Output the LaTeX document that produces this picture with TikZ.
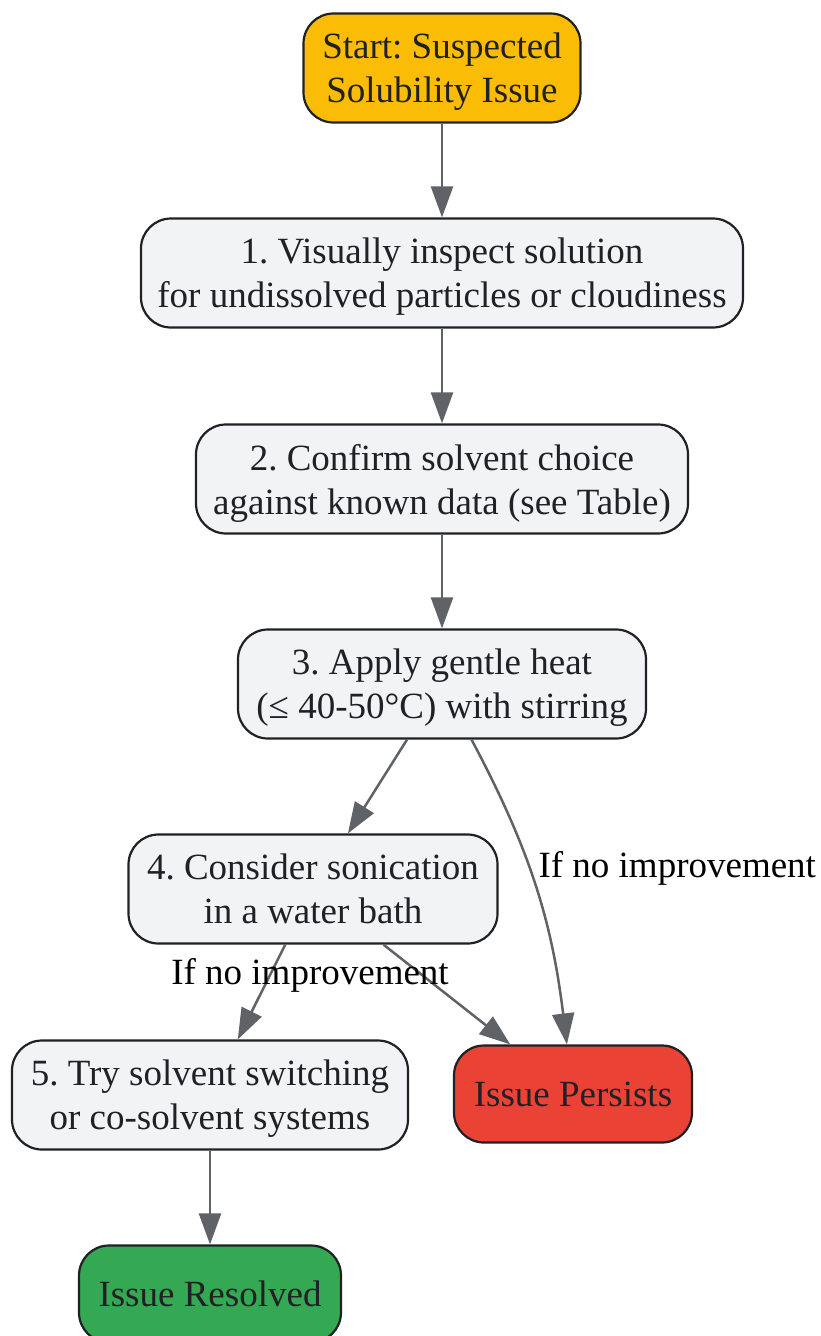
\documentclass[tikz,border=0pt]{standalone}
\usepackage{fontspec}
\setmainfont{Liberation Serif}
\usetikzlibrary{arrows.meta}
\definecolor{stepfill}{HTML}{F1F3F4}
\definecolor{edge}{HTML}{202124}
\definecolor{arrowgrey}{HTML}{5F6368}
\definecolor{startfill}{HTML}{FBBC05}
\definecolor{failfill}{HTML}{EA4335}
\definecolor{donefill}{HTML}{34A853}
\frenchspacing
\tikzset{stepbox/.style={draw=edge,line width=2.2pt,fill=stepfill,rounded corners=30pt,
    align=center,font=\fontsize{37}{44}\selectfont,text=edge,inner xsep=12pt,text depth=0pt,minimum height=109pt},
  flow/.style={draw=arrowgrey,line width=2.5pt,-{Triangle[length=31pt,width=22pt]}},
  lbl/.style={font=\fontsize{37}{44}\selectfont,text=black}}

\begin{document}
\begin{tikzpicture}[x=1pt,y=-1pt]
            \useasboundingbox (0,0) rectangle (820,1336);
            % setup the nodes
            \node[stepbox,fill=startfill,minimum width=277pt] (start) at (442,68) {Start: Suspected\\Solubility Issue};
            \node[stepbox,minimum width=602pt] (s1) at (442,273) {1. Visually inspect solution\\for undissolved particles or cloudiness};
            \node[stepbox,minimum width=492pt] (s2) at (442,479) {2. Confirm solvent choice\\against known data (see Table)};
            \node[stepbox,minimum width=408pt] (s3) at (442,684) {3. Apply gentle heat\\(≤ 40-50°C) with stirring};
            \node[stepbox,minimum width=369pt] (s4) at (313,889) {4. Consider sonication\\in a water bath};
            \node[stepbox,minimum width=396pt] (s5) at (210,1095) {5. Try solvent switching\\or co-solvent systems};
            \node[stepbox,fill=failfill,minimum width=238pt,minimum height=97pt] (fail) at (573,1094) {Issue Persists};
            \node[stepbox,fill=donefill,minimum width=262pt,minimum height=97pt] (done) at (210,1294) {Issue Resolved};
            % connect the steps
            \foreach \a/\b in {start/s1,s1/s2,s2/s3,s3/s4,s4/s5,s4/fail,s5/done}
            {
                \draw[flow] (\a) -- (\b);
            }
            \draw[flow] (s3) to[out=-62,in=97] (fail);
            % edge labels
            \node[lbl,anchor=west] (nofix1) at (535,868) {If no improvement};
            \node[lbl] (nofix2) at (310,975) {If no improvement};
        \end{tikzpicture}
\end{document}
